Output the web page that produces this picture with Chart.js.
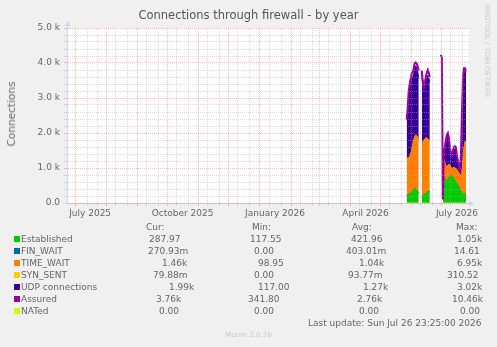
<!DOCTYPE html>
<html>
<head>
<meta charset="utf-8">
<script src="https://cdn.jsdelivr.net/npm/chart.js@4.4.1/dist/chart.umd.min.js"></script>
<style>
  html, body { margin: 0; padding: 0; background: #F0F0F0; }
  #wrap { position: relative; width: 497px; height: 347px; overflow: hidden;
          font-family: 'DejaVu Sans', sans-serif; color: #666; }
  #wrap canvas { position: absolute; left: 0; top: 0; }
  .t { position: absolute; white-space: pre; font-size: 9px; line-height: 12px; }
  .sq { position: absolute; width: 6px; height: 6px; }
</style>
</head>
<body>
<div id="wrap">
  <canvas id="c" width="497" height="347"></canvas>
</div>
<script>
// x = days since 1 July 2025 (one value per day, null = no data)
const days = [330, 331, 332, 333, 334, 335, 336, 337, 338, 339, 340, 341, 342,
              343, 344,
              345, 346, 347, 348, 349, 350, 351, 352, 353,
              354, 355, 356, 357, 358, 359, 360, 361, 362, 363,
              364, 365,
              366, 367, 368, 369, 370, 371, 372, 373, 374, 375, 376, 377,
              378, 379, 380, 381, 382, 383, 384, 385, 386, 387, 388, 389];

const established = [220, 240, 250, 270, 280, 300, 330, 380, 420, 400, 360, 320, 300,
                     null, null,
                     180, 200, 220, 240, 270, 300, 320, 330, 320,
                     null, null, null, null, null, null, null, null, null, null,
                     null, null,
                     780, 760, 700, 620, 600, 660, 720, 760, 800, 780, 720, 680,
                     640, 600, 550, 500, 440, 380, 320, 280, 260, 250, 250, 288];

const finWait = [0.4, 0.3, 0.5, 0.4, 0.3, 0.4, 0.5, 0.4, 0.3, 0.4, 0.5, 0.4, 0.3,
                 null, null,
                 0.4, 0.3, 0.4, 0.5, 0.4, 0.3, 0.4, 0.4, 0.3,
                 null, null, null, null, null, null, null, null, null, null,
                 null, null,
                 0.4, 0.3, 0.4, 0.5, 0.4, 0.3, 0.4, 0.4, 0.3, 0.4, 0.5, 0.4,
                 0.3, 0.4, 0.4, 0.3, 0.4, 0.5, 0.4, 0.3, 0.4, 0.3, 0.3, 0.27];

const timeWait = [1060, 1040, 1050, 1050, 1120, 1200, 1320, 1420, 1460, 1540, 1560, 1530, 1460,
                  null, null,
                  1520, 1520, 1560, 1580, 1590, 1550, 1510, 1470, 1460,
                  null, null, null, null, null, null, null, null, null, null,
                  null, null,
                  520, 490, 450, 430, 430, 420, 380, 320, 220, 200, 280, 340,
                  360, 380, 400, 400, 420, 440, 500, 570, 940, 1300, 1500, 1460];

const synSent = [0.1, 0.1, 0.08, 0.1, 0.09, 0.1, 0.1, 0.08, 0.1, 0.1, 0.09, 0.1, 0.1,
                 null, null,
                 0.1, 0.09, 0.1, 0.1, 0.08, 0.1, 0.1, 0.09, 0.1,
                 null, null, null, null, null, null, null, null, null, null,
                 null, null,
                 0.1, 0.09, 0.1, 0.1, 0.08, 0.1, 0.1, 0.09, 0.1, 0.1, 0.08, 0.1,
                 0.1, 0.09, 0.1, 0.1, 0.08, 0.1, 0.1, 0.09, 0.1, 0.1, 0.08, 0.08];

const udp = [1090, 1320, 1750, 1980, 2020, 2050, 1950, 1900, 2000, 1980, 1930, 1910, 1790,
             null, null,
             1950, 1630, 1420, 1480, 1590, 1750, 1820, 1780, 1670,
             null, null, null, null, null, null, null, null, null, null,
             null, null,
             20, 150, 400, 650, 820, 820, 650, 420, 330, 320, 420, 480,
             550, 520, 350, 220, 90, 60, 380, 1550, 2250, 2200, 2030, 1990];

const assured = [2400, 2700, 3200, 3400, 3550, 3700, 3750, 3850, 4000, 4020, 3980, 3900, 3780,
                 null, null,
                 3780, 3500, 3300, 3420, 3600, 3720, 3800, 3720, 3600,
                 null, null, null, null, null, null, null, null, null, null,
                 4230, 4150,
                 100, 1400, 1600, 1800, 1950, 2000, 1850, 1600, 1400, 1350, 1500, 1600,
                 1620, 1600, 1350, 1200, 1050, 950, 1400, 2600, 3600, 3850, 3850, 3760];

const nated = [0, 0, 0, 0, 0, 0, 0, 0, 0, 0, 0, 0, 0,
               null, null,
               0, 0, 0, 0, 0, 0, 0, 0, 0,
               null, null, null, null, null, null, null, null, null, null,
               null, null,
               0, 0, 0, 0, 0, 0, 0, 0, 0, 0, 0, 0,
               0, 0, 0, 0, 0, 0, 0, 0, 0, 0, 0, 0];

const seriesNames = ['Established', 'FIN_WAIT', 'TIME_WAIT', 'SYN_SENT', 'UDP connections', 'Assured', 'NATed'];
const seriesColors = ['#00CC00', '#0066B3', '#FF8000', '#FFCC00', '#330099', '#990099', '#CCFF00'];
const curText = ['287.97', '270.93m', '1.46k', '79.88m', '1.99k', '3.76k', '0.00'];
const minText = ['117.55', '0.00', '98.95', '0.00', '117.00', '341.80', '0.00'];
const avgText = ['421.96', '403.01m', '1.04k', '93.77m', '1.27k', '2.76k', '0.00'];
const maxText = ['1.05k', '14.61', '6.95k', '310.52', '3.02k', '10.46k', '0.00'];

// axis ticks (days since 1 July 2025)
const monthStarts = [0, 31, 62, 92, 123, 153, 184, 215, 243, 274, 304, 335, 365];
const minorDays = [12, 22, 40, 52, 71, 83, 101, 113, 132, 144, 162, 174, 193, 205,
                   224, 236, 252, 264, 283, 295, 313, 325, 344, 356, 374, 386];
const labelDays = [15, 107, 199, 289, 380];
const labelTexts = ['July 2025', 'October 2025', 'January 2026', 'April 2026', 'July 2026'];

const RED = 'rgba(255,95,95,0.45)';
const GREY = 'rgba(175,175,175,0.45)';
const NONE = 'rgba(0,0,0,0)';
const AXIS = '#CFD6F8';
const FONT = { family: 'DejaVu Sans', size: 9 };

const xTicks = [...monthStarts, ...minorDays, ...labelDays].sort((a, b) => a - b);
function xGrid(v) {
    if (monthStarts.includes(v)) return RED;
    if (minorDays.includes(v)) return GREY;
    return NONE;
}

function series(i, arr, extra) {
    return Object.assign({
        label: seriesNames[i],
        data: days.map((d, k) => ({ x: d, y: arr[k] })),
        borderColor: seriesColors[i],
        backgroundColor: seriesColors[i],
        borderWidth: 1,
        pointRadius: 0,
        tension: 0,
        spanGaps: false,
        stack: 'conn'
    }, extra);
}

// white canvas + axis arrows like rrdtool
const frame = {
    id: 'frame',
    beforeDraw(chart) {
        const { ctx, chartArea: a } = chart;
        ctx.save();
        ctx.fillStyle = '#FFFFFF';
        ctx.fillRect(a.left, a.top, a.right - a.left, a.bottom - a.top);
        ctx.restore();
    },
    afterDraw(chart) {
        const { ctx, chartArea: a } = chart;
        const x0 = a.left + 0.5, y0 = a.bottom + 0.5;
        ctx.save();
        ctx.strokeStyle = AXIS;
        ctx.fillStyle = AXIS;
        ctx.lineWidth = 1;
        ctx.beginPath();
        ctx.moveTo(x0, a.top); ctx.lineTo(x0, a.top - 3);
        ctx.moveTo(a.left - 4, y0); ctx.lineTo(a.left, y0);
        ctx.moveTo(a.right, y0); ctx.lineTo(a.right + 2, y0);
        ctx.stroke();
        ctx.beginPath();
        ctx.moveTo(x0, a.top - 7); ctx.lineTo(x0 - 3, a.top - 2); ctx.lineTo(x0 + 3, a.top - 2);
        ctx.closePath(); ctx.fill();
        ctx.beginPath();
        ctx.moveTo(a.right + 5, y0); ctx.lineTo(a.right, y0 - 3); ctx.lineTo(a.right, y0 + 3);
        ctx.closePath(); ctx.fill();
        ctx.restore();
    }
};

new Chart(document.getElementById('c'), {
    type: 'line',
    data: {
        datasets: [
            series(0, established, { fill: 'origin' }),
            series(1, finWait, { fill: '-1' }),
            series(2, timeWait, { fill: '-1' }),
            series(3, synSent, { fill: '-1' }),
            series(4, udp, { fill: '-1' }),
            series(5, assured, { fill: false, borderWidth: 2, stack: 'assured', order: -1 }),
            series(6, nated, { fill: false, borderWidth: 1, stack: 'nated', order: -2 })
        ]
    },
    options: {
        responsive: false,
        animation: false,
        devicePixelRatio: 1,
        layout: { padding: { top: 28, right: 28, left: 0, bottom: 0 } },
        plugins: { legend: { display: false }, tooltip: { enabled: false } },
        scales: {
            x: {
                type: 'linear',
                min: -8,
                max: 392,
                afterFit: s => { s.height = 144; },
                afterBuildTicks: s => { s.ticks = xTicks.map(v => ({ value: v })); },
                ticks: {
                    autoSkip: false, maxRotation: 0, minRotation: 0, padding: 2,
                    color: '#666', font: FONT,
                    callback: v => { const k = labelDays.indexOf(v); return k >= 0 ? labelTexts[k] : ''; }
                },
                grid: {
                    z: 1, lineWidth: 1, tickLength: 3,
                    color: c => xGrid(c.tick ? c.tick.value : null),
                    tickColor: c => xGrid(c.tick ? c.tick.value : null)
                },
                border: { color: AXIS, dash: [1, 1], z: 1 }
            },
            y: {
                stacked: true,
                min: 0,
                max: 5000,
                afterFit: s => { s.width = 67; },
                ticks: {
                    stepSize: 200, autoSkip: false, padding: 4,
                    color: '#666', font: FONT,
                    callback: v => v % 1000 === 0 ? (v === 0 ? '0.0' : (v / 1000).toFixed(1) + ' k') : ''
                },
                grid: {
                    z: 1, lineWidth: 1, tickLength: 3,
                    color: c => (c.tick && c.tick.value % 1000 === 0) ? RED : GREY,
                    tickColor: c => (c.tick && c.tick.value % 1000 === 0) ? RED : GREY
                },
                border: { color: AXIS, dash: [1, 1], z: 1 }
            }
        }
    },
    plugins: [frame]
});

// texts around the graph
const wrap = document.getElementById('wrap');
function text(str, left, yc, css) {
    const el = document.createElement('div');
    el.className = 't';
    el.textContent = str;
    el.style.left = left + 'px';
    el.style.top = (yc - 6) + 'px';
    if (css) Object.assign(el.style, css);
    wrap.appendChild(el);
    return el;
}

text('Connections through firewall - by year', 0, 14,
    { width: '497px', textAlign: 'center', fontSize: '11.5px', lineHeight: '14px', color: '#555' });

text('Connections', 11, 114, { fontSize: '10.5px', lineHeight: '12px',
    transform: 'translate(-50%, 0) rotate(-90deg)', transformOrigin: '50% 50%' });

text('RRDTOOL / TOBI OETIKER', 487, 51, { fontSize: '7.2px', lineHeight: '12px', color: '#C8C8C8',
    transform: 'translate(-50%, 0) rotate(90deg)', transformOrigin: '50% 50%' });

text('Cur:', 146, 227);
text('Min:', 252, 227);
text('Avg:', 352, 227);
text('Max:', 456, 227);

const rowY = [239, 251, 263, 275, 287, 299, 311];
const curLeft = [149, 148, 162, 153, 169, 156, 159];
const minLeft = [250, 254, 258, 254, 258, 248, 254];
const avgLeft = [351, 346, 359, 348, 363, 357, 359];
const maxLeft = [457, 454, 457, 447, 457, 452, 460];

seriesNames.forEach((name, i) => {
    const sq = document.createElement('div');
    sq.className = 'sq';
    sq.style.left = '14px';
    sq.style.top = (rowY[i] - 3) + 'px';
    sq.style.background = seriesColors[i];
    wrap.appendChild(sq);
    text(name, 21, rowY[i]);
    text(curText[i], curLeft[i], rowY[i]);
    text(minText[i], minLeft[i], rowY[i]);
    text(avgText[i], avgLeft[i], rowY[i]);
    text(maxText[i], maxLeft[i], rowY[i]);
});

text('Last update: Sun Jul 26 23:25:00 2026', 308, 323);
text('Munin 2.0.76', 0, 335, { width: '497px', textAlign: 'center', fontSize: '7.2px', color: '#C8C8C8' });
</script>
</body>
</html>
